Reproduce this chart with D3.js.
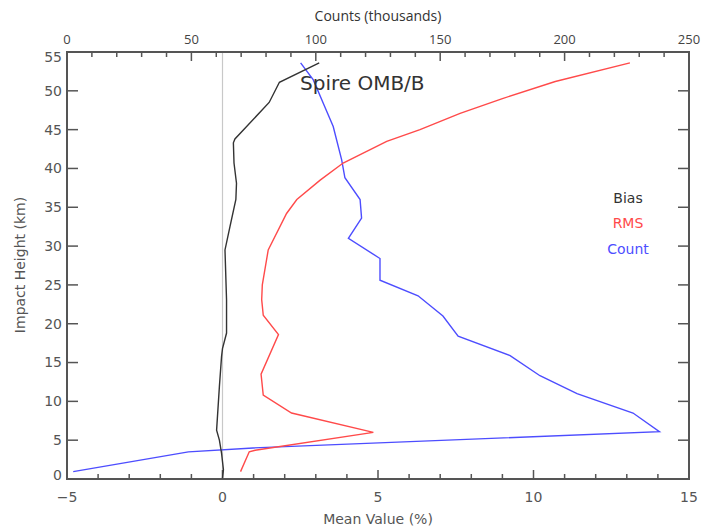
<!DOCTYPE html>
<html>
<head>
<meta charset="utf-8">
<script src="https://cdn.jsdelivr.net/npm/d3@7.9.0/dist/d3.min.js"></script>
<style>
  html, body { margin: 0; padding: 0; background: #fff; }
  svg { display: block; }
</style>
</head>
<body>
<svg id="chart" width="704" height="527"></svg>
<script>
// Bias profile (km, %)
const biasHeight = [0.1, 1.2, 3.3, 5.0, 6.3, 11.9, 15.8, 16.8, 18.8, 23.1, 29.5, 32.5, 36.0, 38.1, 40.7, 43.3, 43.8, 48.5, 51.1, 53.6];
const biasValue  = [0.0, 0.03, -0.03, -0.1, -0.19, -0.1, -0.03, 0.0, 0.13, 0.13, 0.08, 0.24, 0.43, 0.45, 0.37, 0.35, 0.40, 1.5, 1.83, 3.11];

// RMS profile (km, %)
const rmsHeight = [0.95, 3.5, 3.7, 6.0, 8.5, 10.8, 13.5, 18.6, 21.1, 23.1, 25.0, 29.5, 34.2, 36.0, 38.5, 40.7, 43.5, 45.0, 47.1, 49.0, 51.2, 53.6];
const rmsValue  = [0.58, 0.86, 1.05, 4.85, 2.22, 1.31, 1.24, 1.80, 1.31, 1.26, 1.28, 1.47, 2.06, 2.39, 3.14, 3.88, 5.28, 6.35, 7.64, 9.0, 10.7, 13.1];

// Count profile (km, thousands)
const countHeight = [0.95, 3.5, 4.0, 6.1, 8.5, 11.0, 13.3, 15.9, 18.4, 21.0, 23.6, 25.6, 28.4, 31.0, 33.6, 36.0, 38.8, 41.1, 45.4, 48.4, 51.4, 53.6];
const countValue  = [2.5, 48.8, 74.8, 238.1, 227.5, 205.0, 190.1, 178.1, 157.2, 151.1, 141.1, 125.8, 125.8, 113.1, 118.4, 117.8, 111.7, 110.4, 107.0, 103.0, 99.0, 93.9];

const meanTicks = [-5, 0, 5, 10, 15];
const countTicks = [0, 50, 100, 150, 200, 250];
const heightTicks = [0, 5, 10, 15, 20, 25, 30, 35, 40, 45, 50, 55];

const legendLabels = ['Bias', 'RMS', 'Count'];
const legendColors = ['#333', '#ff4a4a', '#4d4dff'];

const svg = d3.select('#chart');
const pLeft = 67, pRight = 689, pTop = 52, pBottom = 479;

const x = d3.scaleLinear().domain([-5, 15]).range([pLeft, pRight]);
const xc = d3.scaleLinear().domain([0, 250]).range([pLeft, pRight]);
const y = d3.scaleLinear().domain([0, 55]).range([pBottom, pTop]);

const axisColor = '#555';
const idlFont = 'DejaVu Sans, sans-serif';
const topFont = 'Open Sans, sans-serif';

// zero line
svg.append('line')
  .attr('x1', x(0)).attr('x2', x(0))
  .attr('y1', y(0)).attr('y2', y(55))
  .attr('stroke', '#c8c8c8').attr('stroke-width', 1.2);

// bottom axis ticks (minor every 1, major every 5)
const bottomTicks = d3.range(-5, 16, 1);
svg.append('g').selectAll('line').data(bottomTicks).join('line')
  .attr('x1', (d) => x(d)).attr('x2', (d) => x(d))
  .attr('y1', pBottom).attr('y2', (d) => pBottom - (d % 5 === 0 ? 9 : 5))
  .attr('stroke', axisColor).attr('stroke-width', 1.5);

svg.append('g').selectAll('text').data(meanTicks).join('text')
  .attr('x', (d) => x(d)).attr('y', 502)
  .attr('text-anchor', 'middle')
  .attr('font-family', idlFont).attr('font-size', 14).attr('fill', '#555')
  .text((d) => (d < 0 ? '\u2212' + Math.abs(d) : d));

// top axis ticks
const topMinor = d3.range(0, 251, 10);
svg.append('g').selectAll('line').data(topMinor).join('line')
  .attr('x1', (d) => xc(d)).attr('x2', (d) => xc(d))
  .attr('y1', pTop).attr('y2', (d) => pTop + (d % 50 === 0 ? 9 : 5))
  .attr('stroke', axisColor).attr('stroke-width', 1.5);

svg.append('g').selectAll('text').data(countTicks).join('text')
  .attr('x', (d) => xc(d)).attr('y', 44)
  .attr('text-anchor', 'middle')
  .attr('font-family', topFont).attr('font-size', 13).attr('fill', '#444')
  .text((d) => d);

// left / right ticks
svg.append('g').selectAll('line').data(heightTicks).join('line')
  .attr('x1', pLeft).attr('x2', pLeft + 11)
  .attr('y1', (d) => y(d)).attr('y2', (d) => y(d))
  .attr('stroke', axisColor).attr('stroke-width', 1.5);

svg.append('g').selectAll('line').data(heightTicks).join('line')
  .attr('x1', pRight).attr('x2', pRight - 11)
  .attr('y1', (d) => y(d)).attr('y2', (d) => y(d))
  .attr('stroke', axisColor).attr('stroke-width', 1.5);

svg.append('g').selectAll('text').data(heightTicks).join('text')
  .attr('x', pLeft - 5)
  .attr('y', (d) => y(d) + (d === 0 ? -4 : d === 55 ? 5 : 0))
  .attr('dy', '0.35em')
  .attr('text-anchor', 'end')
  .attr('font-family', idlFont).attr('font-size', 14).attr('fill', '#555')
  .text((d) => d);

// frame
svg.append('rect')
  .attr('x', pLeft).attr('y', pTop)
  .attr('width', pRight - pLeft).attr('height', pBottom - pTop)
  .attr('fill', 'none').attr('stroke', axisColor).attr('stroke-width', 2);

// axis titles
svg.append('text')
  .attr('x', 378).attr('y', 21)
  .attr('text-anchor', 'middle')
  .attr('font-family', topFont).attr('font-size', 14).attr('fill', '#333')
  .text('Counts (thousands)');

svg.append('text')
  .attr('x', 378).attr('y', 524)
  .attr('text-anchor', 'middle')
  .attr('font-family', idlFont).attr('font-size', 14).attr('fill', '#555')
  .text('Mean Value (%)');

svg.append('text')
  .attr('transform', 'translate(25,265) rotate(-90)')
  .attr('text-anchor', 'middle')
  .attr('font-family', idlFont).attr('font-size', 14).attr('fill', '#555')
  .text('Impact Height (km)');

// series
const lineMean = d3.line().x((d) => x(d[1])).y((d) => y(d[0]));
const lineCount = d3.line().x((d) => xc(d[1])).y((d) => y(d[0]));

svg.append('path')
  .datum(d3.zip(countHeight, countValue))
  .attr('d', lineCount)
  .attr('fill', 'none').attr('stroke', legendColors[2]).attr('stroke-width', 1.4);

svg.append('path')
  .datum(d3.zip(rmsHeight, rmsValue))
  .attr('d', lineMean)
  .attr('fill', 'none').attr('stroke', legendColors[1]).attr('stroke-width', 1.4);

svg.append('path')
  .datum(d3.zip(biasHeight, biasValue))
  .attr('d', lineMean)
  .attr('fill', 'none').attr('stroke', legendColors[0]).attr('stroke-width', 1.4);

// title inside plot
svg.append('text')
  .attr('x', 300).attr('y', 90)
  .attr('font-family', idlFont).attr('font-size', 20).attr('fill', '#333')
  .text('Spire OMB/B');

// legend
svg.append('g').selectAll('text').data(legendLabels).join('text')
  .attr('x', 628).attr('y', (d, i) => 198 + i * 25.5)
  .attr('dy', '0.35em')
  .attr('text-anchor', 'middle')
  .attr('font-family', idlFont).attr('font-size', 14)
  .attr('fill', (d, i) => legendColors[i])
  .text((d) => d);
</script>
</body>
</html>
